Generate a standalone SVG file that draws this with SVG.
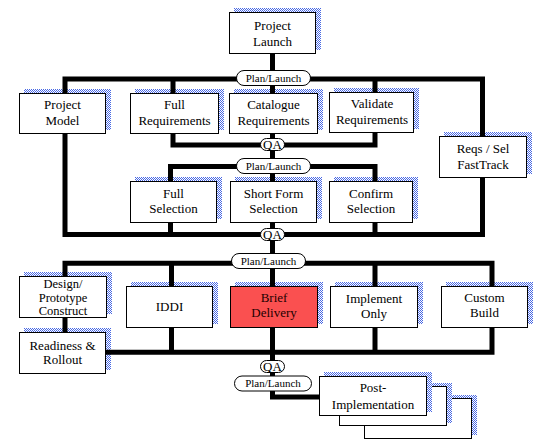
<svg xmlns="http://www.w3.org/2000/svg" width="556" height="447" viewBox="0 0 556 447">
<defs>
<pattern id="chk" width="2" height="2" patternUnits="userSpaceOnUse">
<rect width="2" height="2" fill="#ffffff"/>
<rect width="1" height="1" fill="#4868e4"/>
<rect x="1" y="1" width="1" height="1" fill="#4868e4"/>
</pattern>
</defs>
<style>
.sh{fill:url(#chk);stroke:none}
.bx{fill:#ffffff;stroke:#000;stroke-width:1}
.red{fill:#fa5050}
.ln{fill:none;stroke:#000;stroke-width:5;stroke-linejoin:miter;stroke-linecap:butt}
.pill{fill:#ffffff;stroke:#000;stroke-width:1}
</style>
<rect width="556" height="447" fill="#ffffff"/>

<g id="project-launch">
<rect class="sh" x="234" y="8" width="87" height="42"/>
<rect class="bx" x="229.5" y="12.5" width="86" height="41"/>
<text font-family="Liberation Serif" font-size="13" text-anchor="middle" x="272.5" y="30">Project</text>
<text font-family="Liberation Serif" font-size="13" text-anchor="middle" x="272.5" y="46">Launch</text>
</g>

<g id="project-model">
<rect class="sh" x="24" y="89" width="87" height="41"/>
<rect class="bx" x="19.5" y="93.5" width="86" height="40"/>
<text font-family="Liberation Serif" font-size="13" text-anchor="middle" x="62.5" y="108.5">Project</text>
<text font-family="Liberation Serif" font-size="13" text-anchor="middle" x="62.5" y="124.5">Model</text>
</g>

<g id="full-requirements">
<rect class="sh" x="135" y="89" width="89" height="41"/>
<rect class="bx" x="130.5" y="93.5" width="88" height="40"/>
<text font-family="Liberation Serif" font-size="13" text-anchor="middle" x="174.5" y="108.5">Full</text>
<text font-family="Liberation Serif" font-size="13" text-anchor="middle" x="174.5" y="124.5">Requirements</text>
</g>

<g id="catalogue-requirements">
<rect class="sh" x="234" y="89" width="89" height="41"/>
<rect class="bx" x="229.5" y="93.5" width="88" height="40"/>
<text font-family="Liberation Serif" font-size="13" text-anchor="middle" x="273.5" y="108.5">Catalogue</text>
<text font-family="Liberation Serif" font-size="13" text-anchor="middle" x="273.5" y="124.5">Requirements</text>
</g>

<g id="validate-requirements">
<rect class="sh" x="334" y="88" width="85" height="41"/>
<rect class="bx" x="329.5" y="92.5" width="84" height="40"/>
<text font-family="Liberation Serif" font-size="13" text-anchor="middle" x="372" y="108">Validate</text>
<text font-family="Liberation Serif" font-size="13" text-anchor="middle" x="372" y="124">Requirements</text>
</g>

<g id="reqs-sel-fasttrack">
<rect class="sh" x="444" y="132" width="88" height="42"/>
<rect class="bx" x="439.5" y="136.5" width="87" height="41"/>
<text font-family="Liberation Serif" font-size="13" text-anchor="middle" x="483" y="152.5">Reqs / Sel</text>
<text font-family="Liberation Serif" font-size="13" text-anchor="middle" x="483" y="168.5">FastTrack</text>
</g>

<g id="full-selection">
<rect class="sh" x="135" y="177" width="87" height="42"/>
<rect class="bx" x="130.5" y="181.5" width="86" height="41"/>
<text font-family="Liberation Serif" font-size="13" text-anchor="middle" x="173.5" y="197.5">Full</text>
<text font-family="Liberation Serif" font-size="13" text-anchor="middle" x="173.5" y="212.5">Selection</text>
</g>

<g id="short-form-selection">
<rect class="sh" x="235" y="177" width="87" height="42"/>
<rect class="bx" x="230.5" y="181.5" width="86" height="41"/>
<text font-family="Liberation Serif" font-size="13" text-anchor="middle" x="273.5" y="197.5">Short Form</text>
<text font-family="Liberation Serif" font-size="13" text-anchor="middle" x="273.5" y="212.5">Selection</text>
</g>

<g id="confirm-selection">
<rect class="sh" x="334" y="177" width="84" height="42"/>
<rect class="bx" x="329.5" y="181.5" width="83" height="41"/>
<text font-family="Liberation Serif" font-size="13" text-anchor="middle" x="371" y="197.5">Confirm</text>
<text font-family="Liberation Serif" font-size="13" text-anchor="middle" x="371" y="212.5">Selection</text>
</g>

<g id="design-prototype-construct">
<rect class="sh" x="24" y="272" width="88" height="42"/>
<rect class="bx" x="19.5" y="276.5" width="87" height="41"/>
<text font-family="Liberation Serif" font-size="12.5" text-anchor="middle" x="63" y="287.5">Design/</text>
<text font-family="Liberation Serif" font-size="12.5" text-anchor="middle" x="63" y="301.5">Prototype</text>
<text font-family="Liberation Serif" font-size="12.5" text-anchor="middle" x="63" y="315">Construct</text>
</g>

<g id="readiness-rollout">
<rect class="sh" x="24" y="328" width="87" height="42"/>
<rect class="bx" x="19.5" y="332.5" width="86" height="41"/>
<text font-family="Liberation Serif" font-size="13" text-anchor="middle" x="62.5" y="349.5">Readiness &amp;</text>
<text font-family="Liberation Serif" font-size="13" text-anchor="middle" x="62.5" y="364">Rollout</text>
</g>

<g id="iddi">
<rect class="sh" x="131" y="282" width="87" height="42"/>
<rect class="bx" x="126.5" y="286.5" width="86" height="41"/>
<text font-family="Liberation Serif" font-size="13" text-anchor="middle" x="169.5" y="311">IDDI</text>
</g>

<g id="brief-delivery">
<rect class="sh" x="235" y="282" width="88" height="42"/>
<rect class="bx red" x="230.5" y="286.5" width="87" height="41"/>
<text font-family="Liberation Serif" font-size="13" text-anchor="middle" fill="#200" x="274" y="302">Brief</text>
<text font-family="Liberation Serif" font-size="13" text-anchor="middle" fill="#200" x="274" y="317">Delivery</text>
</g>

<g id="implement-only">
<rect class="sh" x="335" y="282" width="88" height="42"/>
<rect class="bx" x="330.5" y="286.5" width="87" height="41"/>
<text font-family="Liberation Serif" font-size="13" text-anchor="middle" x="374" y="302.5">Implement</text>
<text font-family="Liberation Serif" font-size="13" text-anchor="middle" x="374" y="317.5">Only</text>
</g>

<g id="custom-build">
<rect class="sh" x="446" y="282" width="87" height="42"/>
<rect class="bx" x="441.5" y="286.5" width="86" height="41"/>
<text font-family="Liberation Serif" font-size="13" text-anchor="middle" x="484.5" y="302">Custom</text>
<text font-family="Liberation Serif" font-size="13" text-anchor="middle" x="484.5" y="317">Build</text>
</g>

<g id="post-implementation">
<rect class="sh" x="369" y="395" width="108" height="40"/>
<rect class="bx" x="364.5" y="398.5" width="107" height="40"/>
<rect class="sh" x="344" y="383" width="108" height="40"/>
<rect class="bx" x="339.5" y="386.5" width="107" height="39"/>
<rect class="sh" x="324" y="372" width="108" height="40"/>
<rect class="bx" x="319.5" y="376.5" width="107" height="39"/>
<text font-family="Liberation Serif" font-size="13" text-anchor="middle" x="373" y="392">Post-</text>
<text font-family="Liberation Serif" font-size="13" text-anchor="middle" x="373" y="408.5">Implementation</text>
</g>

<g id="connectors">
<path class="ln" d="M272.5 53.5 V79"/>
<path class="ln" d="M65 93.5 V79 H482.5 V136.5"/>
<path class="ln" d="M173 79 V93.5 M272.5 79 V93.5 M375 79 V92.5"/>
<path class="ln" d="M65 133.5 V234.5 H482.5 V177.5"/>
<path class="ln" d="M173 133.5 V145 H375 V132.5"/>
<path class="ln" d="M272.5 133.5 V181.5"/>
<path class="ln" d="M170.5 181.5 V166.5 H375 V181.5"/>
<path class="ln" d="M170.5 222.5 V234.5 M375 222.5 V234.5"/>
<path class="ln" d="M272.5 222.5 V286.5"/>
<path class="ln" d="M65 276.5 V263.3 H492 V286.5"/>
<path class="ln" d="M171.5 263.3 V286.5 M375 263.3 V286.5"/>
<path class="ln" d="M65 317.5 V332.5"/>
<path class="ln" d="M105.5 352.3 H492 V327.5"/>
<path class="ln" d="M171.5 327.5 V352.3 M375 327.5 V352.3"/>
<path class="ln" d="M272.5 327.5 V397 H319.5"/>

<rect class="pill" x="236.5" y="70.5" width="74" height="15" rx="7.5"/>
<text font-family="Liberation Serif" font-size="11" text-anchor="middle" x="273.5" y="81.8">Plan/Launch</text>
<rect class="pill" x="260.5" y="138.5" width="24" height="12" rx="6"/>
<text font-family="Liberation Serif" font-size="13" text-anchor="middle" x="272.5" y="149">QA</text>
<rect class="pill" x="236.5" y="158.5" width="74" height="15" rx="7.5"/>
<text font-family="Liberation Serif" font-size="11" text-anchor="middle" x="273.5" y="169.8">Plan/Launch</text>
<rect class="pill" x="260.5" y="228.5" width="24" height="12" rx="6"/>
<text font-family="Liberation Serif" font-size="13" text-anchor="middle" x="272.5" y="239">QA</text>
<rect class="pill" x="231.5" y="253.5" width="74" height="15" rx="7.5"/>
<text font-family="Liberation Serif" font-size="11" text-anchor="middle" x="268.5" y="264.8">Plan/Launch</text>
<rect class="pill" x="260.5" y="360.5" width="24" height="12" rx="6"/>
<text font-family="Liberation Serif" font-size="13" text-anchor="middle" x="272.5" y="371">QA</text>
<rect class="pill" x="234.5" y="376" width="77" height="15" rx="7.5"/>
<text font-family="Liberation Serif" font-size="11" text-anchor="middle" x="273" y="387.3">Plan/Launch</text>
</g>
</svg>
